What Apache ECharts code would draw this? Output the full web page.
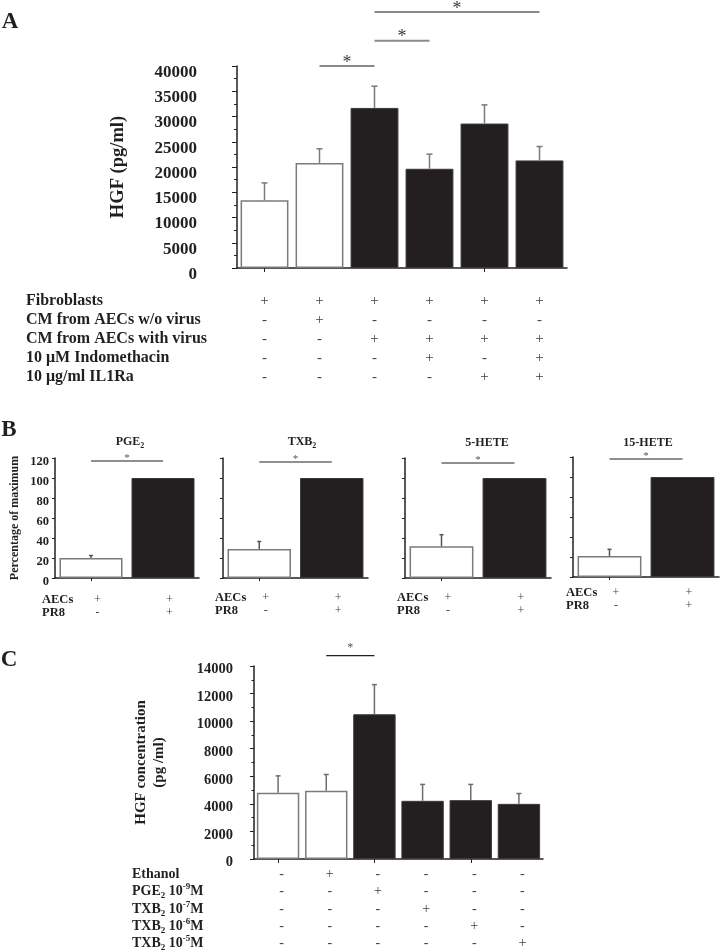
<!DOCTYPE html>
<html>
<head>
<meta charset="utf-8">
<script src="https://cdn.jsdelivr.net/npm/echarts@6/dist/echarts.min.js"></script>
<style>
html,body{margin:0;padding:0;background:#ffffff;}
#chart{width:722px;height:952px;}
</style>
</head>
<body>
<div id="chart"></div>
<script>
// ================= DATA =================
// Panel A
const aCategories = ['Fibroblasts', 'Fib + CM w/o virus', 'Fib + CM with virus', 'Fib + CM virus + Indo', 'Fib + CM virus + IL1Ra', 'Fib + CM virus + Indo + IL1Ra'];
const aGroups = ['control', 'control', 'virus', 'virus', 'virus', 'virus'];
const aValues = [13400, 20800, 31700, 19650, 28600, 21300];
const aErrors = [3450, 2800, 4300, 2900, 3700, 2750];
const aYTicks = [0, 5000, 10000, 15000, 20000, 25000, 30000, 35000, 40000];
const aSigPairs = [[1, 2], [2, 3], [2, 5]];
const aSigLevels = [40000, 45000, 50700];
const aRowLabels = ['Fibroblasts', 'CM from AECs w/o virus', 'CM from AECs with virus', '10 \u03bcM Indomethacin', '10 \u03bcg/ml IL1Ra'];
const aRowSigns = [
  ['+', '+', '+', '+', '+', '+'],
  ['-', '+', '-', '-', '-', '-'],
  ['-', '-', '+', '+', '+', '+'],
  ['-', '-', '-', '+', '-', '+'],
  ['-', '-', '-', '-', '+', '+']
];

// Panel B
const bTitleMain = ['PGE', 'TXB', '5-HETE', '15-HETE'];
const bTitleSub = ['2', '2', '', ''];
const bCategories = ['AECs', 'AECs + PR8'];
const bControl = [20, 29, 31.7, 21];
const bControlErr = [2.5, 7.5, 11.6, 6.7];
const bInfected = [100, 100, 100, 100];
const bSigLevels = [117, 116, 115, 118];
const bYTicks = [0, 20, 40, 60, 80, 100, 120];
const bRowLabels = ['AECs', 'PR8'];
const bRowSigns = [['+', '+'], ['-', '+']];

// Panel C
const cCategories = ['Control', 'Ethanol', 'PGE2 1e-9 M', 'TXB2 1e-7 M', 'TXB2 1e-6 M', 'TXB2 1e-5 M'];
const cGroups = ['control', 'control', 'treated', 'treated', 'treated', 'treated'];
const cValues = [4800, 4950, 10500, 4220, 4270, 4000];
const cErrors = [1230, 1180, 2150, 1190, 1140, 750];
const cYTicks = [0, 2000, 4000, 6000, 8000, 10000, 12000, 14000];
const cSigPairs = [[1, 2]];
const cSigLevels = [14750];
const cRowMain = ['Ethanol', 'PGE', 'TXB', 'TXB', 'TXB'];
const cRowSub = ['', '2', '2', '2', '2'];
const cRowExp = ['', '-9', '-7', '-6', '-5'];
const cRowSigns = [
  ['-', '+', '-', '-', '-', '-'],
  ['-', '-', '+', '-', '-', '-'],
  ['-', '-', '-', '+', '-', '-'],
  ['-', '-', '-', '-', '+', '-'],
  ['-', '-', '-', '-', '-', '+']
];

// ================= STYLE / LAYOUT =================
const FONT = '"Liberation Serif","Times New Roman",serif';
const INK = '#231f20';
const SIGN = '#444444';
const WHITE_BAR = {color: '#ffffff', borderColor: '#7b7b7b', borderWidth: 1.5};
const BLACK_BAR = {color: INK, borderColor: '#3a3a3a', borderWidth: 1};
function barStyle(group) { return group === 'control' ? WHITE_BAR : BLACK_BAR; }

const grids = [];
const xAxes = [];
const yAxes = [];
const series = [];

function addGrid(g) {
  grids.push(Object.assign({outerBoundsMode: 'none', containLabel: false}, g));
  return grids.length - 1;
}
function addMainX(gi, cats, tickLen) {
  xAxes.push({
    type: 'category', gridIndex: gi, data: cats, position: 'bottom',
    axisLine: {show: true, lineStyle: {color: INK, width: 1.5}},
    axisTick: {show: true, alignWithLabel: true, length: tickLen, lineStyle: {color: INK, width: 1}},
    axisLabel: {show: false}, splitLine: {show: false}
  });
  return xAxes.length - 1;
}
function addRowX(gi, cats, signs, name, offset, nameGap, signSize, nameSize, rich, padLeft) {
  xAxes.push({
    type: 'category', gridIndex: gi, data: cats, position: 'bottom', offset: offset,
    axisLine: {show: false}, axisTick: {show: false}, splitLine: {show: false},
    axisLabel: {
      show: true, interval: 0, margin: 0, verticalAlign: 'middle',
      formatter: function (v, i) { return signs[i]; },
      fontFamily: FONT, fontSize: signSize, color: SIGN, padding: [0, 0, 0, padLeft || 0]
    },
    name: name, nameLocation: 'start', nameGap: nameGap, nameMoveOverlap: false,
    nameTextStyle: Object.assign({
      align: 'left', verticalAlign: 'middle', fontFamily: FONT, fontWeight: 'bold',
      fontSize: nameSize, color: INK
    }, rich ? {rich: rich} : {})
  });
}
function addY(gi, ticks, o) {
  const ax = {
    type: 'value', gridIndex: gi,
    min: ticks[0], max: ticks[ticks.length - 1], interval: ticks[1] - ticks[0],
    axisLine: {show: true, lineStyle: {color: INK, width: 1.5}},
    axisTick: {show: true, length: o.tickLen, lineStyle: {color: INK, width: 1}},
    minorTick: {show: !!o.minor, splitNumber: 2, length: o.minorLen || 2, lineStyle: {color: INK, width: 1}},
    splitLine: {show: false}, minorSplitLine: {show: false},
    axisLabel: {
      show: !!o.labels, margin: o.margin || 6, fontFamily: FONT, fontWeight: 'bold',
      fontSize: o.labelSize || 12, color: INK, verticalAlign: 'top', lineHeight: o.labelLine || 12,
      formatter: function (v) { return String(v); }
    }
  };
  if (o.name) {
    Object.assign(ax, {
      name: o.name, nameLocation: 'middle', nameGap: o.nameGap, nameRotate: 90, nameMoveOverlap: false,
      nameTextStyle: {fontFamily: FONT, fontWeight: 'bold', fontSize: o.nameSize, color: INK,
        verticalAlign: 'middle', align: 'center', lineHeight: o.nameLine || o.nameSize * 1.2}
    });
  }
  yAxes.push(ax);
  return yAxes.length - 1;
}
function errRender(color, cap, width) {
  return function (params, api) {
    const e = api.value(2);
    if (!e) return null;
    const x = api.value(0), v = api.value(1);
    const p0 = api.coord([x, v]);
    const p1 = api.coord([x, v + e]);
    return {type: 'group', children: [
      {type: 'line', shape: {x1: p0[0], y1: p0[1], x2: p1[0], y2: p1[1]}, style: {stroke: color, lineWidth: width}},
      {type: 'line', shape: {x1: p1[0] - cap, y1: p1[1], x2: p1[0] + cap, y2: p1[1]}, style: {stroke: color, lineWidth: width}}
    ]};
  };
}
function sigRender(color, starColor, width, fontSize, starGap) {
  return function (params, api) {
    const a = api.coord([api.value(0), api.value(1)]);
    const b = api.coord([api.value(2), api.value(1)]);
    return {type: 'group', children: [
      {type: 'line', shape: {x1: a[0], y1: a[1], x2: b[0], y2: a[1]}, style: {stroke: color, lineWidth: width}},
      {type: 'text', x: (a[0] + b[0]) / 2, y: a[1] - starGap,
        style: {text: '*', fontFamily: FONT, fontSize: fontSize, fill: starColor, align: 'center', verticalAlign: 'middle',
          textAlign: 'center', textVerticalAlign: 'middle'}}
    ]};
  };
}
function addBars(xi, yi, values, groups, gap) {
  series.push({
    type: 'bar', xAxisIndex: xi, yAxisIndex: yi, barCategoryGap: gap, silent: true,
    data: values.map(function (v, i) { return {value: v, itemStyle: barStyle(groups[i])}; }),
    z: 2
  });
}
function addErr(xi, yi, values, errs, color, cap, width) {
  series.push({
    type: 'custom', xAxisIndex: xi, yAxisIndex: yi, clip: false, silent: true, z: 3,
    encode: {x: 0, y: 1},
    renderItem: errRender(color, cap, width),
    data: values.map(function (v, i) { return [i, v, errs[i]]; })
  });
}
function addSig(xi, yi, pairs, levels, color, starColor, width, fontSize, starGap) {
  series.push({
    type: 'custom', xAxisIndex: xi, yAxisIndex: yi, clip: false, silent: true, z: 4,
    encode: {x: 0, y: 1},
    renderItem: sigRender(color, starColor, width, fontSize, starGap),
    data: pairs.map(function (p, i) { return [p[0], levels[i], p[1]]; })
  });
}

// ---------- Panel A ----------
const gA = addGrid({left: 237, top: 66, width: 330, height: 202});
const xA = addMainX(gA, aCategories, 4);
const aRowOffsets = [33, 52, 71, 90, 109];
aRowLabels.forEach(function (lab, r) {
  addRowX(gA, aCategories, aRowSigns[r], lab, aRowOffsets[r], 211, 15, 16, null, 0);
});
const yA = addY(gA, aYTicks, {tickLen: 5, minor: true, minorLen: 3, labels: true, margin: 40, labelSize: 17,
  labelLine: 13, name: 'HGF (pg/ml)', nameGap: 119, nameSize: 18.5});
addBars(xA, yA, aValues, aGroups, '13%');
addErr(xA, yA, aValues, aErrors, '#7a7a7a', 3, 1.5);
addSig(xA, yA, aSigPairs, aSigLevels, '#8a8a8a', '#3a3a3a', 2, 18, 3);

// ---------- Panel B ----------
const bGridBoxes = [
  {left: 55, top: 458, width: 144, height: 120},
  {left: 223, top: 458, width: 145, height: 120},
  {left: 405, top: 458, width: 146, height: 120},
  {left: 573, top: 457, width: 146, height: 120}
];
const bRowOffsets = [[22, 35], [19.5, 33], [19.5, 33], [16, 29]];
const bRowNameGaps = [13, 8, 8, 7];
bGridBoxes.forEach(function (box, k) {
  const gi = addGrid(box);
  const xi = addMainX(gi, bCategories, 3);
  bRowLabels.forEach(function (lab, r) {
    addRowX(gi, bCategories, bRowSigns[r], lab, bRowOffsets[k][r], bRowNameGaps[k], 12, 12.5, null, 13);
  });
  const yi = addY(gi, bYTicks, k === 0
    ? {tickLen: 3, labels: true, margin: 6, labelSize: 12.5, labelLine: 8, name: 'Percentage of maximum', nameGap: 40, nameSize: 12}
    : {tickLen: 3, labels: false});
  addBars(xi, yi, [bControl[k], bInfected[k]], ['control', 'virus'], '12.5%');
  addErr(xi, yi, [bControl[k], bInfected[k]], [bControlErr[k], 0], '#555555', 2, 1.5);
  addSig(xi, yi, [[0, 1]], [bSigLevels[k]], INK, '#555555', 1.2, 11, 2.5);
});

// ---------- Panel C ----------
const gC = addGrid({left: 254, top: 666, width: 289, height: 193});
const xC = addMainX(gC, cCategories, 4);
const cRowOffsets = [15, 32, 50, 67, 84];
const cRich = {
  b: {fontFamily: FONT, fontWeight: 'bold', fontSize: 14, color: INK, lineHeight: 18},
  s: {fontFamily: FONT, fontWeight: 'bold', fontSize: 9, color: INK, lineHeight: 10, verticalAlign: 'bottom'},
  p: {fontFamily: FONT, fontWeight: 'bold', fontSize: 9, color: INK, lineHeight: 10, verticalAlign: 'top'}
};
cRowMain.forEach(function (m, r) {
  let name = '{b|' + m + '}';
  if (cRowSub[r]) name += '{s|' + cRowSub[r] + '}';
  if (cRowExp[r]) name += '{b| 10}{p|' + cRowExp[r] + '}{b|M}';
  addRowX(gC, cCategories, cRowSigns[r], name, cRowOffsets[r], 122, 14, 14, cRich, 7);
});
const yC = addY(gC, cYTicks, {tickLen: 4, minor: true, minorLen: 2.5, labels: true, margin: 21, labelSize: 14.5,
  labelLine: 7, name: 'HGF concentration\n(pg /ml)', nameGap: 104, nameSize: 15, nameLine: 18});
addBars(xC, yC, cValues, cGroups, '12%');
addErr(xC, yC, cValues, cErrors, '#6e6e6e', 2.5, 1.5);
addSig(xC, yC, cSigPairs, cSigLevels, INK, '#555555', 1.2, 12, 7.5);

// ---------- Texts (panel letters, panel B titles) ----------
function letter(t, x, y) {
  return {type: 'text', x: x, y: y, style: {text: t, fontFamily: FONT, fontWeight: 'bold', fontSize: 23, fill: INK,
    align: 'center', verticalAlign: 'middle', textAlign: 'center', textVerticalAlign: 'middle'}};
}
const bTitlePos = [[130, 442], [302, 442], [487, 443], [648, 443]];
const titleRich = {
  m: {fontFamily: FONT, fontWeight: 'bold', fontSize: 12, fill: INK, color: INK, lineHeight: 15},
  s: {fontFamily: FONT, fontWeight: 'bold', fontSize: 8, fill: INK, color: INK, lineHeight: 9, verticalAlign: 'bottom'}
};
const graphics = [letter('A', 10, 22), letter('B', 9, 430), letter('C', 9, 660)];
bTitleMain.forEach(function (m, k) {
  const txt = '{m|' + m + '}' + (bTitleSub[k] ? '{s|' + bTitleSub[k] + '}' : '');
  graphics.push({type: 'text', x: bTitlePos[k][0], y: bTitlePos[k][1],
    style: {text: txt, rich: titleRich, fontFamily: FONT, fontWeight: 'bold', fontSize: 12, fill: INK,
      align: 'center', verticalAlign: 'middle', textAlign: 'center', textVerticalAlign: 'middle'}});
});

const chart = echarts.init(document.getElementById('chart'), null, {renderer: 'canvas'});
chart.setOption({
  animation: false,
  backgroundColor: '#ffffff',
  grid: grids,
  xAxis: xAxes,
  yAxis: yAxes,
  series: series,
  graphic: graphics
});
</script>
</body>
</html>
